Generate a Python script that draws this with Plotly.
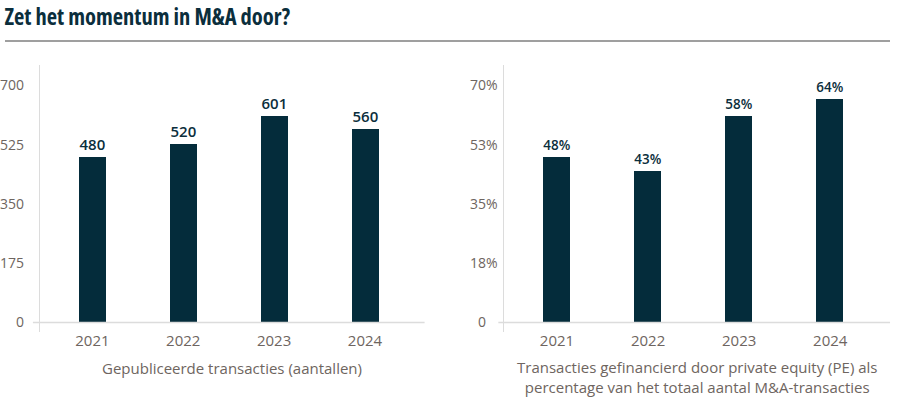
import plotly.graph_objects as go

# ---- data ----
years = ["2021", "2022", "2023", "2024"]
deals_values = [488, 526, 610, 572]
deals_labels = ["480", "520", "601", "560"]
pe_values = [48.8, 44.7, 61.1, 66.0]
pe_labels = ["48%", "43%", "58%", "64%"]
left_ticks = [0, 175, 350, 525, 700]
left_ticktext = ["0", "175", "350", "525", "700"]
right_ticks = [0, 17.5, 35, 52.5, 70]
right_ticktext = ["0<span style='color:rgba(0,0,0,0)'>%</span>", "18%", "35%", "53%", "70%"]

title_text = "Zet het momentum in M&A door?"
left_axis_title = "Gepubliceerde transacties (aantallen)"
right_axis_title = "Transacties gefinancierd door private equity (PE) als<br>percentage van het totaal aantal M&A-transacties"

# ---- style ----
W, H = 900, 404
NAVY = "#042c3b"
TITLE_C = "#0b2e3c"
GRAY_TXT = "#6e6560"
LINE_C = "#dcdcdc"
FONT = "Open Sans"

def px(x):
    return x / W

def py(y):
    return 1 - y / H

fig = go.Figure()

fig.add_trace(go.Bar(
    x=years, y=deals_values, text=deals_labels, textposition="outside",
    marker=dict(color=NAVY, line=dict(width=0)), width=0.296,
    textfont=dict(family=FONT, size=15, color=TITLE_C, weight=600),
    cliponaxis=False, xaxis="x", yaxis="y", showlegend=False,
))
fig.add_trace(go.Bar(
    x=years, y=pe_values, text=pe_labels, textposition="outside",
    marker=dict(color=NAVY, line=dict(width=0)), width=0.296,
    textfont=dict(family=FONT, size=15, color=TITLE_C, weight=600),
    cliponaxis=False, xaxis="x2", yaxis="y2", showlegend=False,
))

ydom = [py(332), py(65)]
xcommon = dict(type="category", range=[-0.578, 3.656], showline=False, showgrid=False,
               zeroline=False, ticks="", tickfont=dict(family=FONT, size=15, color=GRAY_TXT),
               ticklabelstandoff=-2)
ycommon = dict(showgrid=False, zeroline=False, showline=True, linecolor=LINE_C, linewidth=1,
               ticks="", tickfont=dict(family=FONT, size=14, color=GRAY_TXT))

fig.update_layout(
    width=W, height=H, margin=dict(l=0, r=0, t=0, b=0),
    paper_bgcolor="white", plot_bgcolor="white", bargap=0,
    xaxis=dict(domain=[px(37), px(423)], anchor="y", **xcommon),
    yaxis=dict(domain=ydom, anchor="x", range=[-28.06, 760.5], tickvals=left_ticks,
               ticktext=left_ticktext, ticklabelstandoff=12, **ycommon),
    xaxis2=dict(domain=[px(503), px(890)], anchor="y2", **xcommon),
    yaxis2=dict(domain=ydom, anchor="x2", range=[-2.806, 76.05], tickvals=right_ticks,
                ticktext=right_ticktext, ticklabelstandoff=3, **ycommon),
)

shapes = [
    dict(type="line", xref="paper", yref="paper", x0=px(2), x1=px(890), y0=py(41), y1=py(41),
         line=dict(color="#7f7f7f", width=1.5)),
    dict(type="line", xref="paper", yref="paper", x0=px(30), x1=px(423), y0=py(322.5), y1=py(322.5),
         line=dict(color=LINE_C, width=1.5)),
    dict(type="line", xref="paper", yref="paper", x0=px(497), x1=px(890), y0=py(322.5), y1=py(322.5),
         line=dict(color=LINE_C, width=1.5)),
]
fig.update_layout(shapes=shapes)

annotations = [
    dict(text="<b>" + title_text + "</b>", xref="paper", yref="paper", x=px(144.5), y=py(16),
         xanchor="center", yanchor="middle", showarrow=False,
         font=dict(family="Open Sans", size=22.5, color=TITLE_C)),
    dict(text=left_axis_title, xref="paper", yref="paper", x=px(230), y=py(368),
         xanchor="center", yanchor="middle", showarrow=False,
         font=dict(family=FONT, size=15, color=GRAY_TXT)),
    dict(text=right_axis_title, xref="paper", yref="paper", x=px(696.5), y=py(376.5),
         xanchor="center", yanchor="middle", showarrow=False,
         font=dict(family=FONT, size=15, color=GRAY_TXT)),
]
fig.update_layout(annotations=annotations)

post = """
document.body.style.margin = '0';
document.body.style.overflow = 'hidden';
var t = document.querySelector('.annotation-text');
if (t) { t.style.fontStretch = '75%'; }
"""
fig.write_html("out.html", post_script=post, config={"displayModeBar": False})
